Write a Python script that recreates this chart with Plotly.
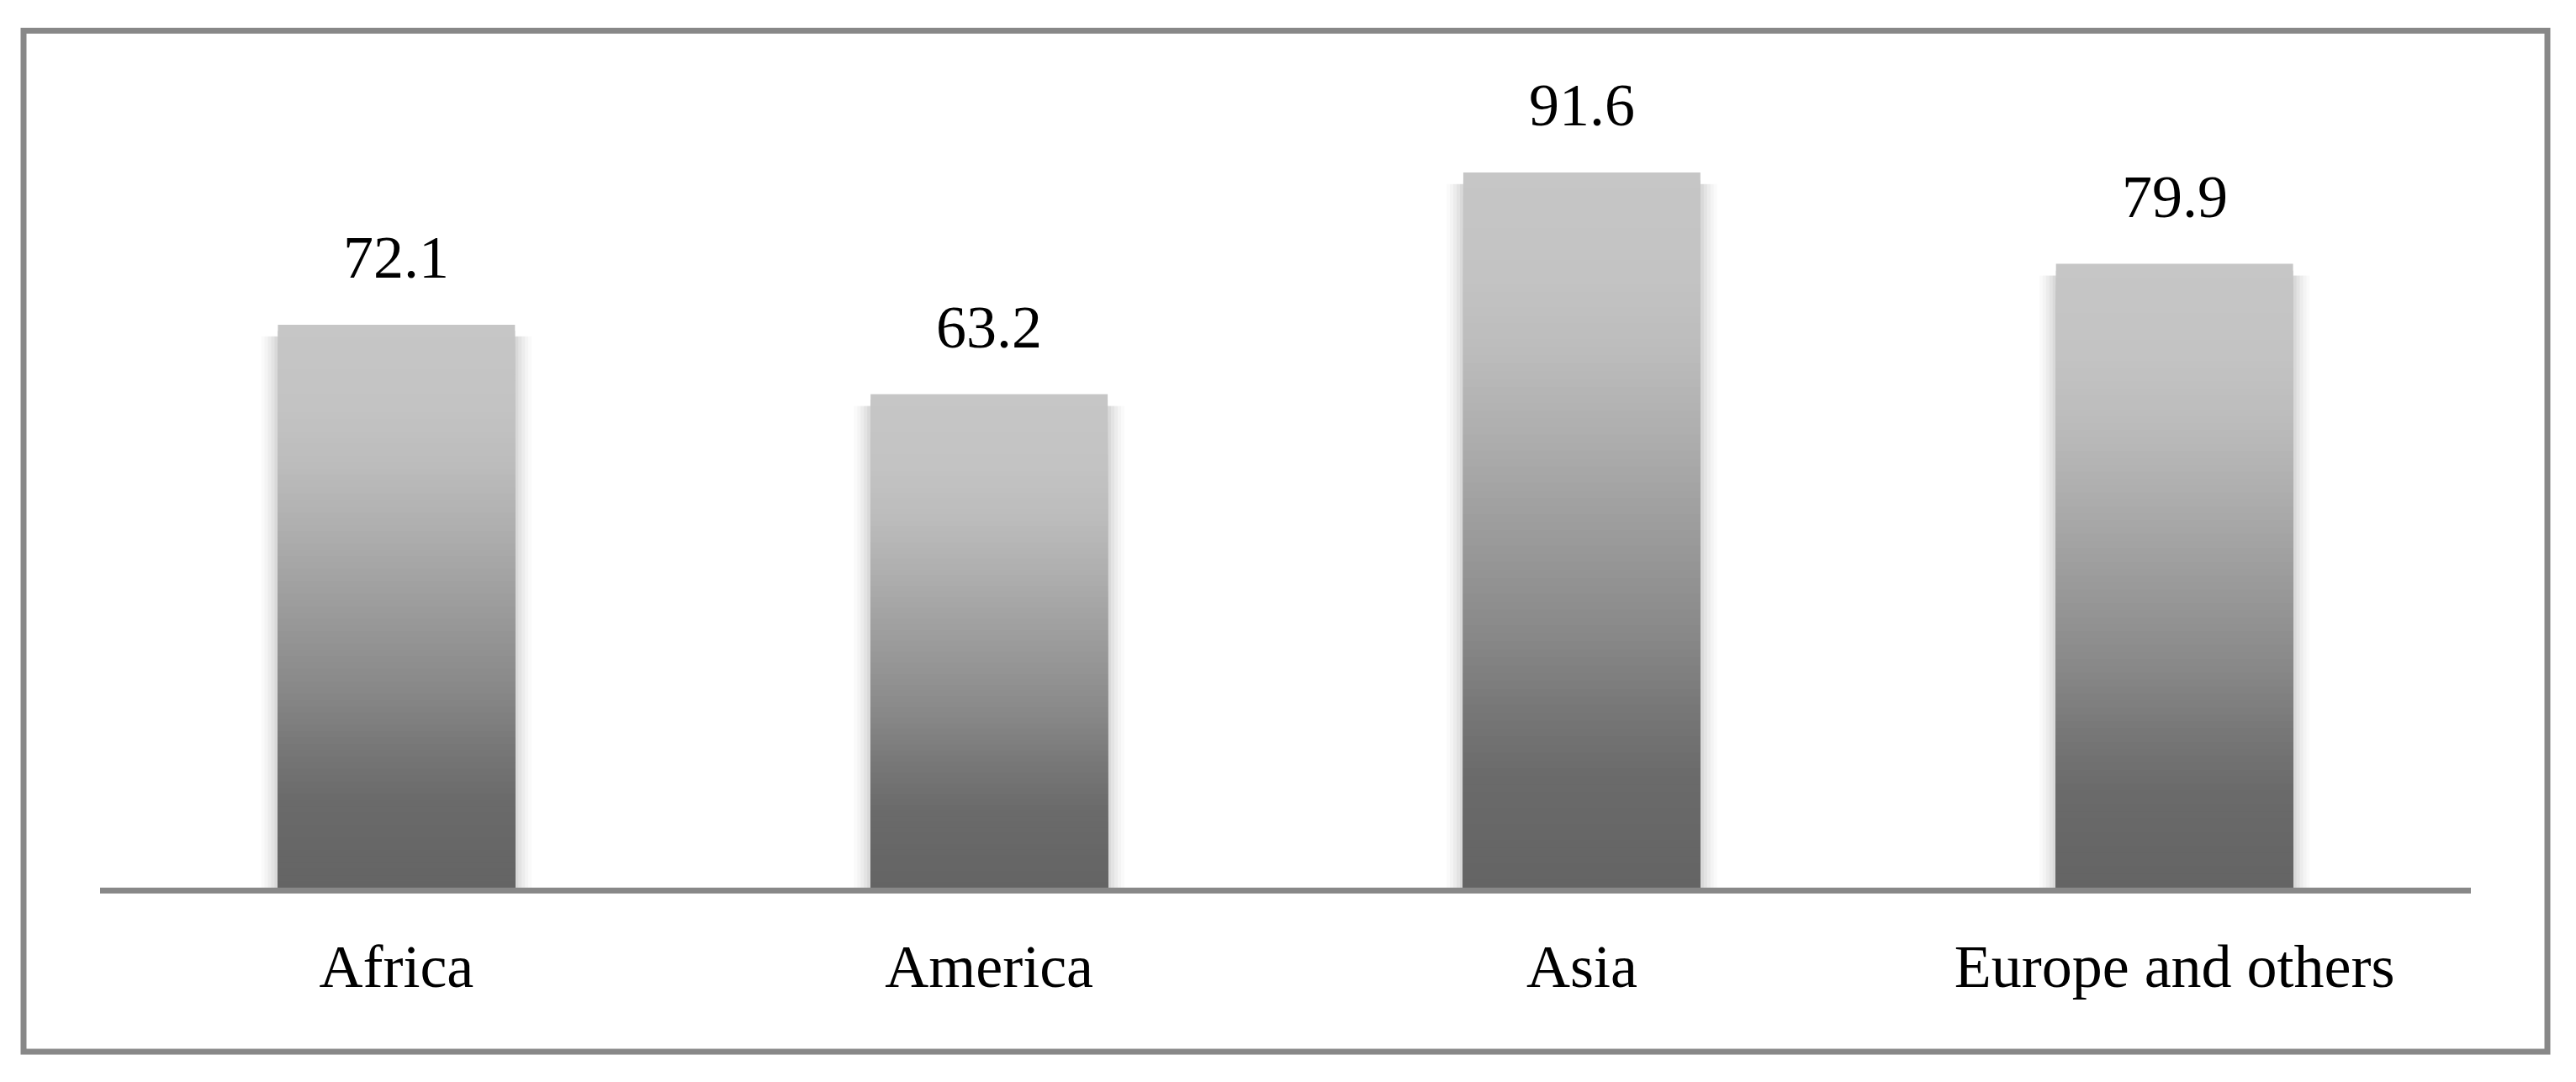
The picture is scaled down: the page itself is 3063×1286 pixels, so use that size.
import plotly.graph_objects as go

# ---- data ----
categories = ["Africa", "America", "Asia", "Europe and others"]
values = [72.1, 63.2, 91.6, 79.9]
value_labels = ["72.1", "63.2", "91.6", "79.9"]

# ---- style ----
FONT = "Liberation Serif"
AXIS_GREY = "#888888"
BAR_WIDTH = 0.4
N_SEG = 90
# gradient stops: (fraction from bottom of bar, grey level)
GRAD = [(0.0, 100), (0.15, 106), (0.25, 119), (0.35, 136), (0.5, 156),
        (0.65, 176), (0.75, 188), (0.85, 195), (1.0, 198)]


def grey_at(f):
    for (f0, g0), (f1, g1) in zip(GRAD[:-1], GRAD[1:]):
        if f0 <= f <= f1:
            g = int(round(g0 + (g1 - g0) * (f - f0) / (f1 - f0)))
            return f"rgb({g},{g},{g})"
    g = GRAD[-1][1]
    return f"rgb({g},{g},{g})"


PAGE_MARGIN = 8  # default body margin of the html page
W, H = 3063 - PAGE_MARGIN, 1286 - PAGE_MARGIN
L, R, T, B = 119 - PAGE_MARGIN, 125, 127 - PAGE_MARGIN, 231
plot_w = W - L - R
plot_h = H - T - B

fig = go.Figure()

# soft shadow behind the bars
for k, a in [(5, 0.02), (4, 0.025), (3, 0.03), (2, 0.035), (1, 0.045)]:
    fig.add_trace(go.Bar(
        x=categories,
        y=[v - 0.6 for v in values],
        base=[-0.9] * len(values),
        width=BAR_WIDTH + 2 * k * 4 / plot_w * 4,
        marker=dict(color=f"rgba(0,0,0,{a})", line=dict(width=0)),
        hoverinfo="skip", showlegend=False,
    ))

# gradient bars: successively shorter bars drawn on top of each other
for j in range(N_SEG):
    frac_top = (N_SEG - j) / N_SEG
    fig.add_trace(go.Bar(
        x=categories,
        y=[v * frac_top for v in values],
        width=BAR_WIDTH,
        marker=dict(color=grey_at((N_SEG - j - 0.5) / N_SEG), line=dict(width=0)),
        hoverinfo="skip", showlegend=False,
    ))

for c, v, t in zip(categories, values, value_labels):
    fig.add_annotation(
        x=c, y=v, text=t, showarrow=False, yanchor="bottom", yshift=38,
        font=dict(family=FONT, size=72, color="black"),
    )


# outer frame (page pixel positions converted to paper coordinates)
def px_x(p):
    return (p - PAGE_MARGIN - L) / plot_w


def px_y(p):
    return (T + plot_h - (p - PAGE_MARGIN)) / plot_h


fig.add_shape(type="rect", xref="paper", yref="paper",
              x0=px_x(28), x1=px_x(3029), y0=px_y(1250), y1=px_y(36.5),
              line=dict(color=AXIS_GREY, width=7), fillcolor="rgba(0,0,0,0)",
              layer="above")

fig.update_layout(
    width=W, height=H,
    margin=dict(l=L, r=R, t=T, b=B, pad=0),
    paper_bgcolor="white", plot_bgcolor="white",
    barmode="overlay",
    showlegend=False,
    font=dict(family=FONT, size=72, color="black"),
    xaxis=dict(
        type="category", categoryorder="array", categoryarray=categories,
        range=[-0.5, 3.5], showline=True, linecolor=AXIS_GREY, linewidth=7,
        showgrid=False, zeroline=False, ticks="",
        tickfont=dict(family=FONT, size=72, color="black"),
        ticklabelstandoff=25,
    ),
    yaxis=dict(range=[0, 100], visible=False, showgrid=False, zeroline=False),
)

fig.write_html("out.html", config={"displayModeBar": False})
